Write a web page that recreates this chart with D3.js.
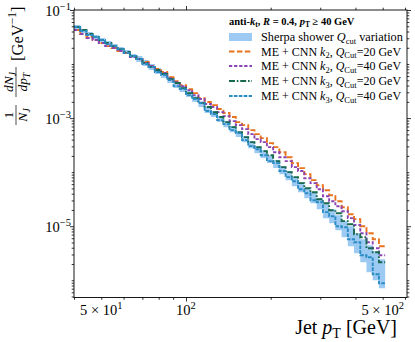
<!DOCTYPE html>
<html><head><meta charset="utf-8">
<script src="https://cdn.jsdelivr.net/npm/d3@7"></script>
<style>
body{margin:0;background:#fff}
svg{display:block}
text{font-family:"Liberation Serif","Times New Roman",serif;fill:#000}
</style>
</head><body>
<svg id="c" width="415" height="342"></svg>
<script>
// ---- data ----
const binEdges = [40.0,42.1,44.3,46.6,49.0,51.6,54.3,57.1,60.1,63.2,66.6,70.0,73.7,77.5,81.6,85.8,90.3,95.0,100.0,105.2,
  110.7,116.5,122.6,129.0,135.8,142.8,150.3,158.2,166.4,175.1,184.3,193.9,204.0,214.7,225.9,237.7,250.1,263.2,276.9,291.4,
  306.6,322.6,339.5,357.2,375.9,395.5,416.2,437.9,460.8,484.9,510.2];

const sherpaHi = [5.27e-2,4.45e-2,3.91e-2,3.44e-2,3.03e-2,2.66e-2,2.34e-2,2.06e-2,1.82e-2,1.53e-2,
  1.41e-2,1.19e-2,1.00e-2,8.43e-3,7.11e-3,5.74e-3,4.64e-3,3.91e-3,3.16e-3,2.55e-3,
  2.06e-3,1.60e-3,1.35e-3,1.09e-3,8.80e-4,7.11e-4,5.74e-4,4.64e-4,3.75e-4,3.03e-4,
  2.55e-4,2.06e-4,1.67e-4,1.29e-4,1.05e-4,8.08e-5,6.53e-5,5.05e-5,4.26e-5,3.30e-5,
  2.55e-5,2.06e-5,1.60e-5,1.24e-5,1.00e-5,7.42e-6,5.74e-6,4.45e-6,3.44e-6,2.45e-6];
const sherpaLo = [4.45e-2,3.75e-2,3.30e-2,2.90e-2,2.55e-2,2.25e-2,1.98e-2,1.74e-2,1.53e-2,1.29e-2,
  1.09e-2,9.18e-3,7.74e-3,6.53e-3,5.50e-3,4.45e-3,3.59e-3,3.03e-3,2.45e-3,1.98e-3,
  1.60e-3,1.24e-3,1.05e-3,8.43e-4,6.81e-4,5.50e-4,4.45e-4,3.59e-4,2.78e-4,2.25e-4,
  1.82e-4,1.47e-4,1.19e-4,9.18e-5,7.11e-5,5.50e-5,4.26e-5,3.30e-5,2.66e-5,2.06e-5,
  1.41e-5,1.14e-5,8.43e-6,6.26e-6,4.26e-6,3.16e-6,2.15e-6,1.41e-6,1.00e-6,7.11e-7];
const meK2Q20 = [4.26e-2,3.59e-2,3.16e-2,2.78e-2,2.45e-2,2.15e-2,1.98e-2,1.74e-2,1.60e-2,1.35e-2,
  1.24e-2,1.09e-2,9.18e-3,8.08e-3,7.11e-3,5.74e-3,4.84e-3,4.08e-3,3.44e-3,2.90e-3,
  2.34e-3,1.98e-3,1.74e-3,1.47e-3,1.24e-3,1.05e-3,8.43e-4,7.42e-4,5.99e-4,5.05e-4,
  4.26e-4,3.44e-4,2.90e-4,2.34e-4,1.89e-4,1.47e-4,1.19e-4,9.18e-5,7.11e-5,5.74e-5,
  4.64e-5,3.75e-5,2.90e-5,2.25e-5,1.67e-5,1.35e-5,1.00e-5,7.42e-6,5.74e-6,4.26e-6];
const meK2Q40 = [4.26e-2,3.59e-2,3.03e-2,2.78e-2,2.45e-2,2.15e-2,1.98e-2,1.74e-2,1.60e-2,1.35e-2,
  1.24e-2,1.05e-2,9.18e-3,7.74e-3,6.81e-3,5.50e-3,4.64e-3,3.91e-3,3.30e-3,2.66e-3,
  2.25e-3,1.82e-3,1.60e-3,1.29e-3,1.09e-3,8.80e-4,7.42e-4,6.26e-4,5.05e-4,4.08e-4,
  3.59e-4,2.90e-4,2.34e-4,1.89e-4,1.60e-4,1.24e-4,1.05e-4,7.74e-5,6.26e-5,4.84e-5,
  3.59e-5,2.90e-5,2.34e-5,1.89e-5,1.41e-5,1.05e-5,7.42e-6,5.05e-6,3.91e-6,2.90e-6];
const meK3Q20 = [4.84e-2,4.26e-2,3.59e-2,3.16e-2,2.78e-2,2.45e-2,2.15e-2,1.89e-2,1.67e-2,1.41e-2,
  1.24e-2,1.05e-2,8.80e-3,7.74e-3,6.53e-3,5.27e-3,4.45e-3,3.59e-3,2.90e-3,2.34e-3,
  1.89e-3,1.60e-3,1.29e-3,1.05e-3,8.43e-4,6.81e-4,5.50e-4,4.45e-4,3.59e-4,2.90e-4,
  2.45e-4,2.06e-4,1.60e-4,1.24e-4,1.00e-4,8.08e-5,6.26e-5,5.05e-5,4.26e-5,3.16e-5,
  2.66e-5,1.98e-5,1.74e-5,1.24e-5,1.09e-5,7.11e-6,6.26e-6,3.91e-6,3.30e-6,2.15e-6];
const meK3Q40 = [4.84e-2,4.08e-2,3.44e-2,3.16e-2,2.78e-2,2.34e-2,2.15e-2,1.89e-2,1.60e-2,1.41e-2,
  1.24e-2,1.00e-2,8.80e-3,7.11e-3,6.26e-3,5.05e-3,3.91e-3,3.44e-3,2.66e-3,2.25e-3,
  1.89e-3,1.35e-3,1.19e-3,9.18e-4,7.74e-4,5.99e-4,5.27e-4,3.91e-4,3.03e-4,2.66e-4,
  2.06e-4,1.60e-4,1.47e-4,1.05e-4,8.08e-5,6.81e-5,4.84e-5,4.08e-5,3.03e-5,2.78e-5,
  1.82e-5,1.53e-5,1.00e-5,9.58e-6,5.74e-6,5.05e-6,2.90e-6,2.66e-6,1.29e-6,8.80e-7];

const xTickLabels = [{v:50, pre:"5 × 10", exp:"1"}, {v:100, pre:"10", exp:"2"}, {v:500, pre:"5 × 10", exp:"2"}];
const yTickLabels = [{v:1e-1, exp:"−1"}, {v:1e-3, exp:"−3"}, {v:1e-5, exp:"−5"}];
const xMajor = [100];
const xMinor = [40,50,60,70,80,90,200,300,400,500,600];
const yMajor = [1e-1,1e-3,1e-5];

// ---- layout ----
const svg = d3.select("#c");
const L=74, R=407, T=10, B=297.5;
const x = d3.scaleLog().domain([40,610]).range([L,R]);
const y = d3.scaleLog().domain([4.8e-7,0.1]).range([B,T]);

const yMinor = [];
for (let e=-7; e<=-1; e++) for (let s=1; s<=9; s++) {
  const v = s*Math.pow(10,e);
  if (v>=4.8e-7 && v<=0.1 && !(s===1 && yMajor.some(m=>Math.abs(m-v)/v<1e-6))) yMinor.push(v);
}

svg.append("defs").append("clipPath").attr("id","clip")
  .append("rect").attr("x",L).attr("y",T).attr("width",R-L).attr("height",B-T);

const plot = svg.append("g").attr("clip-path","url(#clip)");

const bandData = sherpaHi.map((h,i)=>({e:binEdges[i],hi:h,lo:sherpaLo[i]}));
bandData.push({e:binEdges[sherpaHi.length],hi:sherpaHi[sherpaHi.length-1],lo:sherpaLo[sherpaLo.length-1]});
const area = d3.area().x(d=>x(d.e)).y0(d=>y(d.lo)).y1(d=>y(d.hi)).curve(d3.curveStepAfter);
const bandColor = "#9ccaf3";
plot.append("path").attr("d",area(bandData)).attr("fill",bandColor).attr("stroke","none");

const series = [
  {vals:meK2Q20, color:"#e8731c", dash:"5.5,2.4", k:"2", q:"20"},
  {vals:meK2Q40, color:"#8c44b5", dash:"3.2,1.9", k:"2", q:"40"},
  {vals:meK3Q20, color:"#18694f", dash:"6,1.8,1.6,1.8", k:"3", q:"20"},
  {vals:meK3Q40, color:"#2b8cc4", dash:"3.6,1.3", k:"3", q:"40"}
];
const line = d3.line().x(d=>x(d[0])).y(d=>y(d[1])).curve(d3.curveStepAfter);
series.forEach(s=>{
  const pts = s.vals.map((v,i)=>[binEdges[i],v]);
  pts.push([binEdges[s.vals.length], s.vals[s.vals.length-1]]);
  plot.append("path").attr("d",line(pts)).attr("fill","none")
    .attr("stroke",s.color).attr("stroke-width",1.9).attr("stroke-dasharray",s.dash);
});

// ---- axes ----
function ticks(axisGen, vals, size){ return axisGen.tickValues(vals).tickSize(size).tickFormat(""); }
const axG = svg.append("g");
axG.append("g").attr("transform",`translate(0,${B})`).call(ticks(d3.axisBottom(x),xMajor,4));
axG.append("g").attr("transform",`translate(0,${B})`).call(ticks(d3.axisBottom(x),xMinor,2.3));
axG.append("g").attr("transform",`translate(0,${T})`).call(ticks(d3.axisTop(x),xMajor,4));
axG.append("g").attr("transform",`translate(0,${T})`).call(ticks(d3.axisTop(x),xMinor,2.3));
axG.append("g").attr("transform",`translate(${L},0)`).call(ticks(d3.axisLeft(y),yMajor,4));
axG.append("g").attr("transform",`translate(${L},0)`).call(ticks(d3.axisLeft(y),yMinor,2.3));
axG.append("g").attr("transform",`translate(${R},0)`).call(ticks(d3.axisRight(y),yMajor,4));
axG.append("g").attr("transform",`translate(${R},0)`).call(ticks(d3.axisRight(y),yMinor,2.3));
axG.selectAll(".domain").remove();
axG.selectAll("line").attr("stroke","#000").attr("stroke-width",0.8);
svg.append("rect").attr("x",L).attr("y",T).attr("width",R-L).attr("height",B-T)
  .attr("fill","none").attr("stroke","#000").attr("stroke-width",0.9);

// tick labels
xTickLabels.forEach(t=>{
  const tx = svg.append("text").attr("x",x(t.v)).attr("y",B+17).attr("text-anchor","middle").attr("font-size",14.5);
  tx.append("tspan").text(t.pre);
  tx.append("tspan").attr("font-size",10.5).attr("dy",-6).text(t.exp);
});
yTickLabels.forEach(t=>{
  const tx = svg.append("text").attr("x",L-3).attr("y",y(t.v)+6).attr("text-anchor","end").attr("font-size",14.5);
  tx.append("tspan").text("10");
  tx.append("tspan").attr("font-size",10.5).attr("dy",-6).text(t.exp);
});

// axis labels
const xl = svg.append("text").attr("x",397).attr("y",334).attr("text-anchor","end").attr("font-size",20);
xl.append("tspan").text("Jet ");
xl.append("tspan").attr("font-style","italic").text("p");
xl.append("tspan").attr("font-size",14).attr("dy",3.5).text("T");
xl.append("tspan").attr("dy",-3.5).text(" [GeV]");

const yl = svg.append("g").attr("transform","translate(3,127) rotate(-90)");
function frac(g, cx, numParts, denParts, w){
  const n = g.append("text").attr("x",cx).attr("y",10).attr("text-anchor","middle").attr("font-size",13.5);
  numParts.forEach(p=>{ const s=n.append("tspan").text(p.t); if(p.i) s.attr("font-style","italic"); if(p.sub) s.attr("font-size",9.5).attr("dy",p.dy); });
  const d = g.append("text").attr("x",cx).attr("y",24).attr("text-anchor","middle").attr("font-size",13.5);
  denParts.forEach(p=>{ const s=d.append("tspan").text(p.t); if(p.i) s.attr("font-style","italic"); if(p.sub) s.attr("font-size",9.5).attr("dy",p.dy); });
  g.append("line").attr("x1",cx-w/2).attr("x2",cx+w/2).attr("y1",13).attr("y2",13).attr("stroke","#000").attr("stroke-width",0.7);
}
frac(yl, 12, [{t:"1"}], [{t:"N",i:true},{t:"J",i:true,sub:true,dy:2.5}], 20);
frac(yl, 45, [{t:"dN",i:true},{t:"J",i:true,sub:true,dy:2.5}], [{t:"dp",i:true},{t:"T",i:true,sub:true,dy:2.5}], 30);
const gv = yl.append("text").attr("x",66).attr("y",20).attr("font-size",16.5);
gv.append("tspan").text("[GeV");
gv.append("tspan").attr("font-size",11.5).attr("dy",-7).text("−1");
gv.append("tspan").attr("dy",7).text("]");

// ---- legend ----
const lg = svg.append("g");
const lx0=229, lx1=252, tx0=261;
const title = lg.append("text").attr("x",lx0).attr("y",25).attr("font-size",10.5).attr("font-weight","bold");
title.append("tspan").text("anti-");
title.append("tspan").attr("font-style","italic").text("k");
title.append("tspan").attr("font-size",7.5).attr("dy",1.5).text("t");
title.append("tspan").attr("dy",-1.5).text(", ");
title.append("tspan").attr("font-style","italic").text("R");
title.append("tspan").text(" = 0.4, ");
title.append("tspan").attr("font-style","italic").text("p");
title.append("tspan").attr("font-size",7.5).attr("dy",1.5).text("T");
title.append("tspan").attr("dy",-1.5).text(" ≥ 40 GeV");

const rowY = [37,51.5,66,81,96];
lg.append("rect").attr("x",lx0).attr("y",rowY[0]-4).attr("width",lx1-lx0).attr("height",8).attr("fill",bandColor);
const t0 = lg.append("text").attr("x",tx0).attr("y",rowY[0]+4).attr("font-size",12.3);
t0.append("tspan").text("Sherpa shower ");
t0.append("tspan").attr("font-style","italic").text("Q");
t0.append("tspan").attr("font-size",8.5).attr("dy",2.5).text("cut");
t0.append("tspan").attr("dy",-2.5).text(" variation");
series.forEach((s,i)=>{
  const ry = rowY[i+1];
  lg.append("line").attr("x1",lx0).attr("x2",lx1).attr("y1",ry).attr("y2",ry)
    .attr("stroke",s.color).attr("stroke-width",1.9).attr("stroke-dasharray",s.dash);
  const t = lg.append("text").attr("x",tx0).attr("y",ry+4).attr("font-size",12);
  t.append("tspan").text("ME + CNN ");
  t.append("tspan").attr("font-style","italic").text("k");
  t.append("tspan").attr("font-size",8.5).attr("dy",2.5).text(s.k);
  t.append("tspan").attr("dy",-2.5).text(", ");
  t.append("tspan").attr("font-style","italic").text("Q");
  t.append("tspan").attr("font-size",8.5).attr("dy",2.5).text("Cut");
  t.append("tspan").attr("dy",-2.5).text("=" + s.q + " GeV");
});
</script>
</body></html>
